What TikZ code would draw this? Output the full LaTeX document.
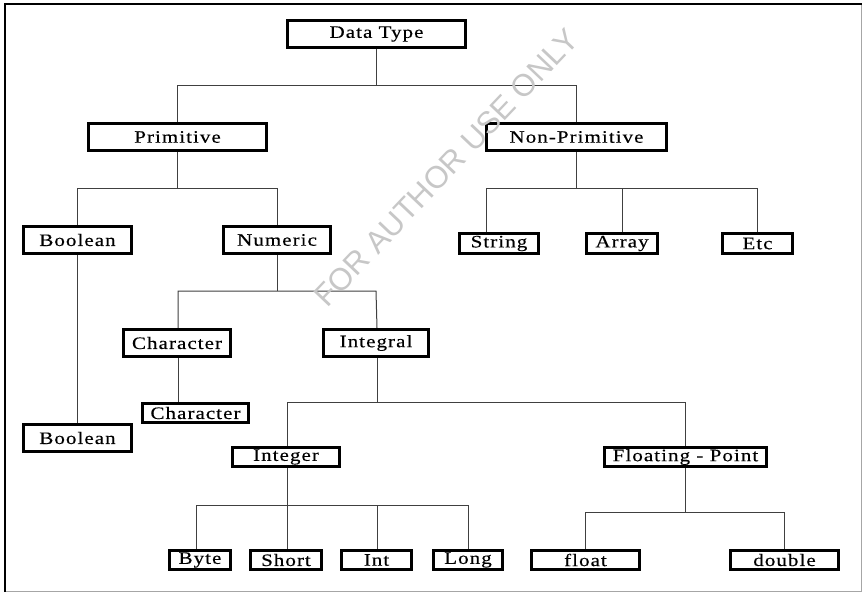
\documentclass[tikz,border=0pt]{standalone}
\usepackage{fontspec}
\setmainfont{Liberation Serif}[FakeStretch=1.2,LetterSpace=6,FakeBold=0.3]
\newfontfamily\marksans{Liberation Sans}
\begin{document}
\begin{tikzpicture}[x=1pt,y=-1pt,
  box/.style={draw=black,line width=2.6pt,fill=white,inner sep=0pt,
    font=\fontsize{17.5}{20}\selectfont,text=black},
  tall/.style={box,minimum height=27.5pt},
  flat/.style={box,minimum height=19.5pt},
  link/.style={draw=black!75,line width=1pt}]
\useasboundingbox (0,0) rectangle (862,592);
\fill[white] (0,0) rectangle (862,592);
% outer frame
\draw[black!35,line width=1pt] (5,591) -- (861.5,591) -- (861.5,4);
\draw[black,line width=2.5pt] (5,592) -- (5,4) -- (862,4);
% bus levels
\coordinate (b1) at (0,85);
\coordinate (b2) at (0,188);
\coordinate (b3) at (0,291);
\coordinate (b4) at (0,402);
\coordinate (b5) at (0,505);
\coordinate (b6) at (0,512);
% nodes
\node[tall,minimum width=178pt] (dt) at (376.5,34) {Data Type};
\node[tall,minimum width=178pt] (prim) at (177.5,137) {Primitive};
\node[tall,minimum width=180pt] (nonp) at (576.5,137) {Non-Primitive};
\node[tall,minimum width=108pt] (bool) at (77.5,240) {Boolean};
\node[tall,minimum width=107pt] (num) at (277,240) {Numeric};
\node[flat,minimum width=79pt] (str) at (499,243.5) {String};
\node[flat,minimum width=71pt] (arr) at (622,243.5) {Array};
\node[flat,minimum width=70pt] (etc) at (757.5,243.5) {Etc};
\node[tall,minimum width=107pt] (chr) at (177,343) {Character};
\node[tall,minimum width=105pt] (itg) at (376,343) {Integral};
\node[flat,minimum width=106pt] (chrb) at (195.5,413) {Character};
\node[tall,minimum width=108pt] (boolb) at (77.5,438) {Boolean};
\node[flat,minimum width=107pt] (int) at (286,457) {Integer};
\node[flat,minimum width=162pt] (fp) at (685.5,457) {Floating - Point};
\node[flat,minimum width=61pt] (byte) at (200,560) {Byte};
\node[flat,minimum width=71pt] (short) at (286,560) {Short};
\node[flat,minimum width=70pt] (intb) at (376.5,560) {Int};
\node[flat,minimum width=69pt] (long) at (468,560) {Long};
\node[flat,minimum width=108pt] (float) at (585.5,560) {float};
\node[flat,minimum width=108pt] (double) at (784.5,560) {double};
% tree links
\path[link] (dt.south) -- (dt.south |- b1);
\path[link] (prim.north) |- (b1 -| nonp.north) -- (nonp.north);
\path[link] (prim.south) -- (prim.south |- b2);
\path[link] (bool.north) |- (b2 -| num.north) -- (num.north);
\path[link] (nonp.south) -- (nonp.south |- b2);
\path[link] ([xshift=-13pt]str.north) |- (b2 -| etc.north) -- (etc.north);
\path[link] (arr.north) -- (arr.north |- b2);
\path[link] (bool.south) -- (boolb.north);
\path[link] (num.south) -- (num.south |- b3);
\path[link] ([xshift=1pt]chr.north) |- (b3 -| itg.north) -- ([xshift=1pt]itg.north);
\path[link] ([xshift=1pt]chr.south) -- ([xshift=1pt]chr.south |- chrb.north);
\path[link] ([xshift=1pt]itg.south) -- ([xshift=1pt]itg.south |- b4);
\path[link] ([xshift=1pt]int.north) |- (b4 -| fp.north) -- (fp.north);
\path[link] ([xshift=1pt]int.south) -- ([xshift=1pt]int.south |- b5);
\path[link] ([xshift=-4pt]byte.north) |- (b5 -| long.north) -- (long.north);
\path[link] ([xshift=1pt]short.north) -- ([xshift=1pt]short.north |- b5);
\path[link] ([xshift=0.5pt]intb.north) -- ([xshift=0.5pt]intb.north |- b5);
\path[link] (fp.south) -- (fp.south |- b6);
\path[link] (float.north) |- (b6 -| double.north) -- (double.north);
% watermark, printed over the chart
\node[text=black!22,font=\marksans\fontsize{31}{34}\selectfont,rotate=46.5]
  (wm) at (446,168) {FOR AUTHOR USE ONLY};
\end{tikzpicture}
\end{document}
